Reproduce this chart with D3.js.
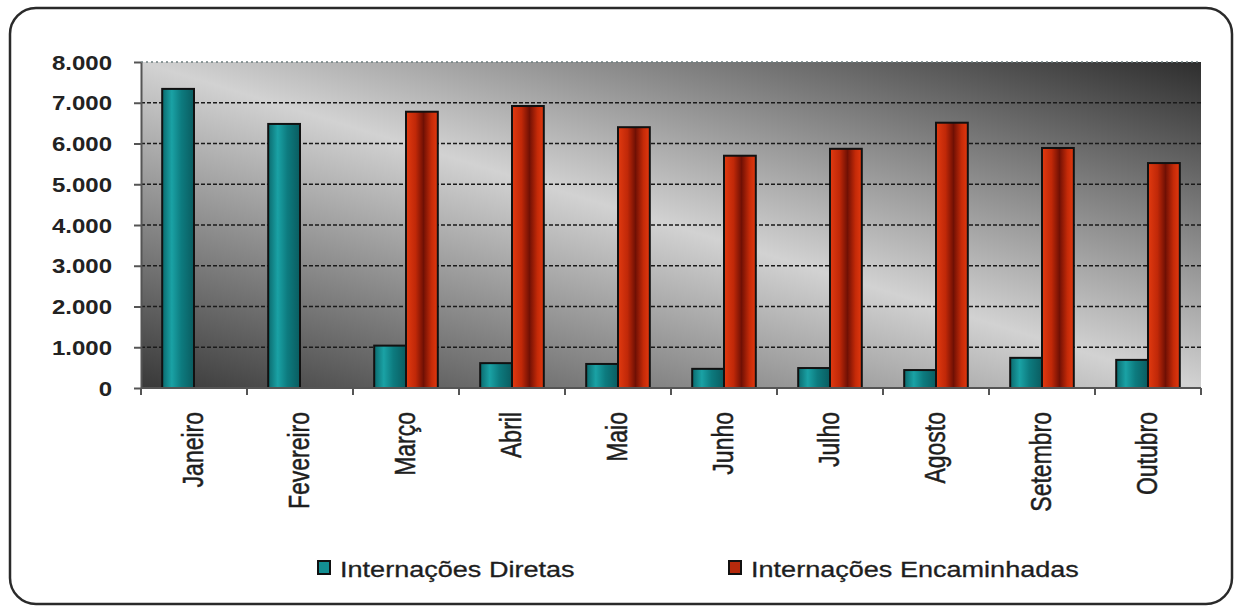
<!DOCTYPE html>
<html>
<head>
<meta charset="utf-8">
<script src="https://cdn.jsdelivr.net/npm/d3@7"></script>
<style>
  html, body { margin: 0; padding: 0; background: #fff; }
  svg { display: block; font-family: "Liberation Sans", Arial, sans-serif; }
</style>
</head>
<body>
<div id="chart"></div>
<script>
// data
const months = ["Janeiro", "Fevereiro", "Março", "Abril", "Maio", "Junho", "Julho", "Agosto", "Setembro", "Outubro"];
const diretas = [7340, 6480, 1040, 610, 590, 470, 490, 440, 740, 690];
const encaminhadas = [null, null, 6780, 6920, 6400, 5700, 5870, 6510, 5890, 5520];
const seriesNames = ["Internações Diretas", "Internações Encaminhadas"];
const yTicks = [0, 1000, 2000, 3000, 4000, 5000, 6000, 7000, 8000];

const width = 1241;
const height = 607;
const stretch = 1.2; // the picture's text is drawn a bit wide

const svg = d3.select('#chart').append('svg')
    .attr('width', width)
    .attr('height', height);

const defs = svg.append('defs');

// plot background: light band along the diagonal, dark corners
const bg = defs.append('linearGradient')
    .attr('id', 'plotBg')
    .attr('x1', 0).attr('y1', 1).attr('x2', 1).attr('y2', 0);
bg.append('stop').attr('offset', '0%').attr('stop-color', '#383838');
bg.append('stop').attr('offset', '50%').attr('stop-color', '#d2d2d2');
bg.append('stop').attr('offset', '100%').attr('stop-color', '#2e2e2e');

// cylinder-like bar fills
const teal = defs.append('linearGradient').attr('id', 'tealFill');
[['0%', '#0b6a6e'], ['30%', '#1aa2a5'], ['60%', '#0d7b7f'], ['100%', '#0a5c60']]
    .forEach(([o, c]) => teal.append('stop').attr('offset', o).attr('stop-color', c));
const red = defs.append('linearGradient').attr('id', 'redFill');
[['0%', '#e23a10'], ['30%', '#c02808'], ['55%', '#701004'], ['80%', '#c42a08'], ['100%', '#e2390f']]
    .forEach(([o, c]) => red.append('stop').attr('offset', o).attr('stop-color', c));

// outer rounded frame
svg.append('rect')
    .attr('x', 10).attr('y', 8)
    .attr('width', 1222).attr('height', 596)
    .attr('rx', 26)
    .attr('fill', '#fff')
    .attr('stroke', '#2a2a2a')
    .attr('stroke-width', 2.5);

const plot = { left: 141, right: 1201, top: 62, bottom: 388 };

const x = d3.scaleBand()
    .domain(months)
    .range([plot.left, plot.right])
    .paddingInner(0.4)
    .paddingOuter(0.2);

const xSub = d3.scaleBand()
    .domain([0, 1])
    .range([0, x.bandwidth()]);

const y = d3.scaleLinear()
    .domain([0, 8000])
    .range([plot.bottom, plot.top]);

const ptBR = d3.formatLocale({ decimal: ',', thousands: '.', grouping: [3], currency: ['R$', ''] });
const fmt = ptBR.format(',d');

// background
svg.append('rect')
    .attr('x', plot.left).attr('y', plot.top)
    .attr('width', plot.right - plot.left)
    .attr('height', plot.bottom - plot.top)
    .attr('fill', 'url(#plotBg)');

// grid lines
svg.append('g')
    .selectAll('line')
    .data(yTicks.filter(d => d > 0))
    .join('line')
    .attr('x1', plot.left).attr('x2', plot.right)
    .attr('y1', d => y(d)).attr('y2', d => y(d))
    .attr('stroke', d => d === 8000 ? '#6f7f80' : '#1a1a1a')
    .attr('stroke-width', 1.6)
    .attr('stroke-dasharray', d => d === 8000 ? '2,3' : '4,2');

// bars
const groups = svg.append('g')
    .selectAll('g')
    .data(months)
    .join('g')
    .attr('transform', d => `translate(${x(d)},0)`);

groups.each(function(m, i) {
    const g = d3.select(this);
    const vals = [diretas[i], encaminhadas[i]];
    vals.forEach((v, k) => {
        if (v == null) return;
        g.append('rect')
            .attr('x', xSub(k))
            .attr('y', y(v))
            .attr('width', xSub.bandwidth())
            .attr('height', y(0) - y(v))
            .attr('fill', k === 0 ? 'url(#tealFill)' : 'url(#redFill)')
            .attr('stroke', '#111')
            .attr('stroke-width', 2);
    });
});

// y axis
const yAxis = svg.append('g')
    .attr('transform', `translate(${plot.left},0)`)
    .call(d3.axisLeft(y).tickValues(yTicks).tickFormat(fmt).tickSize(7).tickSizeOuter(0));
yAxis.select('.domain').attr('stroke', '#555').attr('stroke-width', 2);
yAxis.selectAll('.tick line').attr('stroke', '#555').attr('stroke-width', 2);
yAxis.selectAll('.tick text')
    .attr('x', -29 / stretch)
    .attr('dy', '0.36em')
    .attr('transform', `scale(${stretch},1)`)
    .attr('fill', '#222')
    .attr('font-size', 20)
    .attr('font-weight', 'bold')
    .attr('font-family', '"Liberation Sans", Arial, sans-serif');

// x axis: ticks between categories
const xAxis = svg.append('g')
    .attr('transform', `translate(0,${plot.bottom})`);
xAxis.append('line')
    .attr('x1', plot.left).attr('x2', plot.right)
    .attr('stroke', '#555').attr('stroke-width', 2);
const boundaries = months.map(m => x(m) - x.step() * x.paddingInner() / 2)
    .concat([plot.right]);
xAxis.selectAll('.xt')
    .data(boundaries)
    .join('line')
    .attr('class', 'xt')
    .attr('x1', d => d).attr('x2', d => d)
    .attr('y1', 0).attr('y2', 7)
    .attr('stroke', '#555').attr('stroke-width', 2);

xAxis.selectAll('text')
    .data(months)
    .join('text')
    .attr('transform', d => `translate(${x(d) + x.bandwidth() / 2 + 9},24) scale(1.25,1) rotate(-90)`)
    .attr('text-anchor', 'end')
    .attr('fill', '#1e1e1e')
    .attr('font-size', 23)
    .attr('stroke', '#1e1e1e')
    .attr('stroke-width', 0.4)
    .text(d => d);

// legend
const legendX = [318, 729];
const legend = svg.append('g')
    .selectAll('g')
    .data(seriesNames)
    .join('g')
    .attr('transform', (d, i) => `translate(${legendX[i]},561)`);
legend.append('rect')
    .attr('width', 12).attr('height', 13)
    .attr('fill', (d, i) => i === 0 ? '#138f93' : '#b52a0c')
    .attr('stroke', '#111')
    .attr('stroke-width', 2);
legend.append('text')
    .attr('transform', 'translate(22,16) scale(1.23,1)')
    .attr('fill', '#1e1e1e')
    .attr('stroke', '#1e1e1e')
    .attr('stroke-width', 0.3)
    .attr('font-size', 22)
    .text(d => d);
</script>
</body>
</html>
